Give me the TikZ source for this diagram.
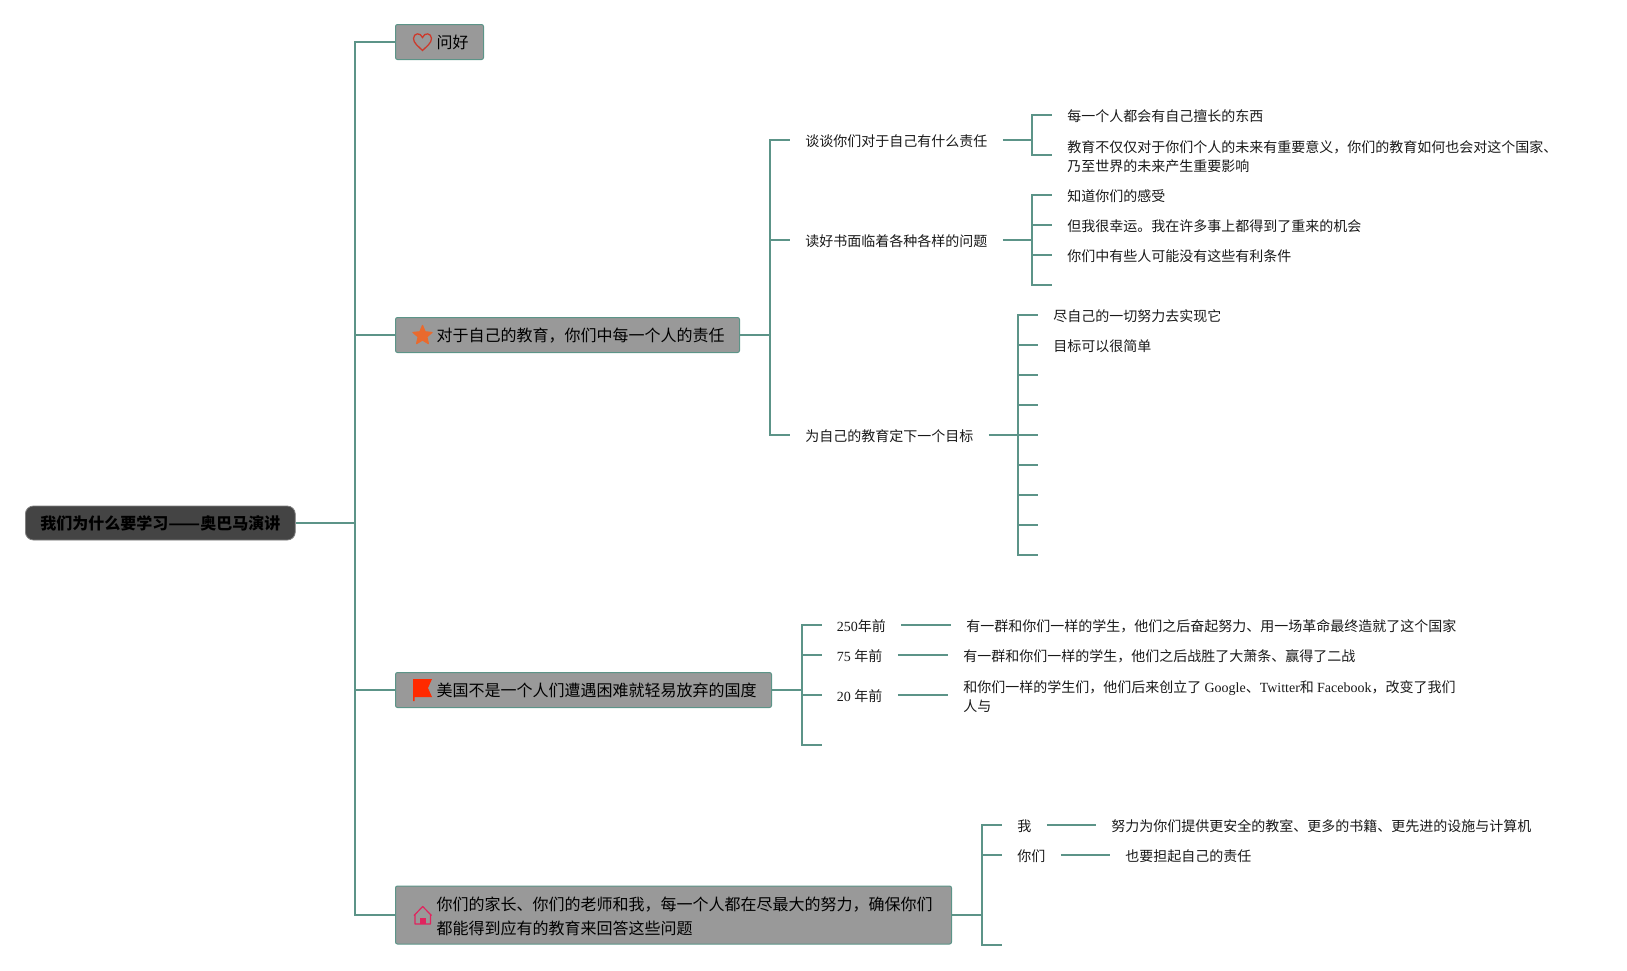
\documentclass[tikz,border=0pt]{standalone}
\usepackage{graphicx}
\usepackage{fontspec}
\setmainfont{Liberation Serif}
\newfontfamily\cjk{Noto Sans CJK SC}
\newcommand{\lat}[1]{{\rmfamily\normalfont #1}}
\usetikzlibrary{shapes.geometric}
\definecolor{linkgreen}{HTML}{5C9488}
\definecolor{boxgrey}{HTML}{999999}
\definecolor{rootgrey}{HTML}{444444}
\definecolor{heartred}{HTML}{CC3A2C}
\definecolor{starorange}{HTML}{E96A2E}
\definecolor{flagred}{HTML}{FF2A00}
\definecolor{housepink}{HTML}{E0245E}
\tikzset{
    link/.style={draw=linkgreen,line width=0.95pt},
    toplink/.style={draw=linkgreen,line width=1.1pt},
    root/.style={draw=boxgrey!70!rootgrey,fill=rootgrey,rounded corners=4pt,anchor=west,inner xsep=7.5pt,inner ysep=0pt,
        minimum height=17pt,text=black,font=\cjk\bfseries\fontsize{8}{12}\selectfont,text height=8.75pt,text depth=2.25pt},
    topic/.style={draw=linkgreen,fill=boxgrey,rounded corners=1pt,line width=0.5pt,anchor=west,inner xsep=7.5pt,inner ysep=0pt,
        minimum height=29pt,font=\cjk\fontsize{8}{12}\selectfont,text=black},
    topictext/.style={topic,minimum height=17.5pt,text height=8.75pt,text depth=2.25pt},
    sub/.style={anchor=west,inner xsep=7.5pt,inner ysep=0pt,align=left,font=\cjk\fontsize{7}{9.75}\selectfont,text=black!90,
        text height=8.75pt,text depth=1.95pt},
    subtwo/.style={sub,text height=19pt,text depth=2.2pt},
}
\begin{document}
\begin{tikzpicture}[x=0.5pt,y=-0.5pt]
    \useasboundingbox (0,0) rectangle (1627,970);
    % main nodes
    \node[root] (root) at (25,523) {我们为什么要学习\scalebox{1.16}[1]{——}奥巴马演讲};
    \node[topictext] (hello) at (395,42) {\hspace*{13pt}问好};
    \node[topictext] (duty) at (395,335) {\hspace*{13pt}对于自己的教育，你们中每一个人的责任};
    \node[topictext] (usa) at (395,690) {\hspace*{13pt}美国不是一个人们遭遇困难就轻易放弃的国度};
    \node[topic] (all) at (395,915) {\hspace*{13pt}\begin{tabular}{@{}l@{}}\rule{0pt}{11.4pt}你们的家长、你们的老师和我，每一个人都在尽最大的努力，确保你们\\都能得到应有的教育来回答这些问题\end{tabular}\hspace*{2pt}};
    \coordinate (spine) at (355,523);
    \draw[toplink,line width=1.3pt] (root.east) -- (spine);
    \draw[toplink] (spine) |- (hello.west);
    \draw[toplink] (spine) |- (duty.west);
    \draw[toplink] (spine) |- (usa.west);
    \draw[toplink] (spine) |- (all.west);

    % icons
    \draw[draw=heartred,line width=0.65pt] (422.5,50.5) .. controls (418,46) and (413.5,43) .. (413.5,38.5) .. controls (413.5,33) and (420.5,32) .. (422.5,37.5) .. controls (424.5,32) and (431.5,33) .. (431.5,38.5) .. controls (431.5,43) and (427,46) .. (422.5,50.5) -- cycle;
    \node[star,star points=5,star point ratio=2.2,fill=starorange,draw=starorange,line width=0.6pt,line join=round,minimum size=10pt,inner sep=0pt] (staricon) at (422.5,335.5) {};
    \fill[flagred] (413,679) -- (432,679) -- (428,688) -- (432,697) -- (414.5,697) -- (414.5,701) -- (413,701) -- cycle;
    \draw[draw=housepink,line width=0.6pt,line join=round] (414,915.5) -- (422.7,906.5) -- (431.5,915.5) (415,915) -- (415,924) -- (430.5,924) -- (430.5,915);
    \fill[housepink] (420,924) -- (420,918) -- (425.5,918) -- (425.5,924) -- cycle;

    % duty branch
    \coordinate (dutyJoin) at (770,335);
    \node[sub] (talk) at (790,140) {谈谈你们对于自己有什么责任};
    \node[sub] (read) at (790,240) {读好书面临着各种各样的问题};
    \node[sub] (goal) at (790,435) {为自己的教育定下一个目标};
    \draw[link] (duty.east) -- (dutyJoin);
    \draw[link] (dutyJoin) |- (talk.west);
    \draw[link] (dutyJoin) |- (read.west);
    \draw[link] (dutyJoin) |- (goal.west);

    \coordinate (talkJoin) at (1032,140);
    \node[sub] (talkOne) at (1052,115) {每一个人都会有自己擅长的东西};
    \node[subtwo] (talkTwo) at (1052,155) {教育不仅仅对于你们个人的未来有重要意义，你们的教育如何也会对这个国家、\\乃至世界的未来产生重要影响};
    \draw[link] (talk.east) -- (talkJoin);
    \draw[link] (talkJoin) |- (talkOne.west);
    \draw[link] (talkJoin) |- (talkTwo.west);

    \coordinate (readJoin) at (1032,240);
    \node[sub] (readOne) at (1052,195) {知道你们的感受};
    \node[sub] (readTwo) at (1052,225) {但我很幸运。我在许多事上都得到了重来的机会};
    \node[sub] (readThree) at (1052,255) {你们中有些人可能没有这些有利条件};
    \coordinate (readFour) at (1052,285);
    \draw[link] (read.east) -- (readJoin);
    \draw[link] (readJoin) |- (readOne.west);
    \draw[link] (readJoin) |- (readTwo.west);
    \draw[link] (readJoin) |- (readThree.west);
    \draw[link] (readJoin) |- (readFour);

    \coordinate (goalJoin) at (1018,435);
    \node[sub] (goalOne) at (1038,315) {尽自己的一切努力去实现它};
    \node[sub] (goalTwo) at (1038,345) {目标可以很简单};
    \draw[link] (goal.east) -- (goalJoin);
    \draw[link] (goalJoin) |- (goalOne.west);
    \draw[link] (goalJoin) |- (goalTwo.west);
    \foreach \i/\y in {3/375,4/405,5/435,6/465,7/495,8/525,9/555} {
        \coordinate (goalStub\i) at (1038,\y);
        \draw[link] (goalJoin) |- (goalStub\i);
    }

    % usa branch
    \coordinate (usaJoin) at (802,690);
    \node[sub] (yearA) at (821.5,625) {\lat{250}年前};
    \node[sub] (yearB) at (821.5,655) {\lat{75 }年前};
    \node[sub] (yearC) at (821.5,695) {\lat{20 }年前};
    \coordinate (usaEnd) at (821.5,745);
    \draw[link] (usa.east) -- (usaJoin);
    \draw[link] (usaJoin) |- (yearA.west);
    \draw[link] (usaJoin) |- (yearB.west);
    \draw[link] (usaJoin) |- (yearC.west);
    \draw[link] (usaJoin) |- (usaEnd);

    \node[sub] (storyA) at (951,625) {有一群和你们一样的学生，他们之后奋起努力、用一场革命最终造就了这个国家};
    \node[sub] (storyB) at (948,655) {有一群和你们一样的学生，他们之后战胜了大萧条、赢得了二战};
    \node[subtwo] (storyC) at (948,695) {和你们一样的学生们，他们后来创立了 \lat{Google}、\lat{Twitter}和 \lat{Facebook}，改变了我们\\人与};
    \draw[link] (yearA.east) -- (storyA.west);
    \draw[link] (yearB.east) -- (storyB.west);
    \draw[link] (yearC.east) -- (storyC.west);

    % all branch
    \coordinate (allJoin) at (982,915);
    \node[sub] (me) at (1002,825) {我};
    \node[sub] (you) at (1002,855) {你们};
    \coordinate (allEnd) at (1002,945);
    \draw[link] (all.east) -- (allJoin);
    \draw[link] (allJoin) |- (me.west);
    \draw[link] (allJoin) |- (you.west);
    \draw[link] (allJoin) |- (allEnd);

    \node[sub] (meText) at (1096,825) {努力为你们提供更安全的教室、更多的书籍、更先进的设施与计算机};
    \node[sub] (youText) at (1110,855) {也要担起自己的责任};
    \draw[link] (me.east) -- (meText.west);
    \draw[link] (you.east) -- (youText.west);
\end{tikzpicture}
\end{document}
